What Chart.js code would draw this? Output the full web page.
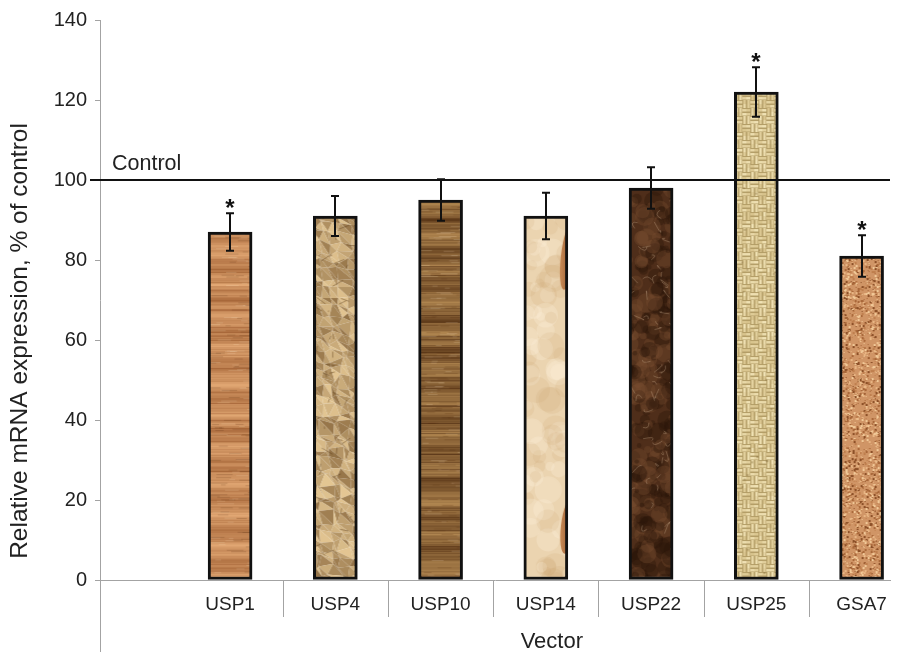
<!DOCTYPE html>
<html>
<head>
<meta charset="utf-8">
<script src="https://cdn.jsdelivr.net/npm/chart.js@4/dist/chart.umd.min.js"></script>
<style>
  html, body { margin: 0; padding: 0; background: #fff; }
  #wrap { width: 901px; height: 652px; }
</style>
</head>
<body>
<div id="wrap"><canvas id="chart" width="901" height="652"></canvas></div>
<script>
// Relative mRNA expression per vector (% of control), with error bars
const categories = ['USP1', 'USP4', 'USP10', 'USP14', 'USP22', 'USP25', 'GSA7'];
const expression = [87, 91, 95, 91, 98, 122, 81];
const errors = [4.7, 5.0, 5.2, 5.8, 5.2, 6.2, 5.2];
const significant = [true, false, false, false, false, true, true];
const controlLevel = 100;
const yTickValues = [0, 20, 40, 60, 80, 100, 120, 140];

const FONT = '"Liberation Sans", Arial, Helvetica, sans-serif';
const AXIS_GREY = '#a3a3a3';
const TEXT = '#222';

// ---------- texture helpers (deterministic) ----------
function hash(n) { const s = Math.sin(n * 12.9898 + 78.233) * 43758.5453; return s - Math.floor(s); }
function hex(c) { return [parseInt(c.slice(1, 3), 16), parseInt(c.slice(3, 5), 16), parseInt(c.slice(5, 7), 16)]; }
function mix(a, b, t) {
  t = Math.max(0, Math.min(1, t));
  const A = hex(a), B = hex(b);
  return 'rgb(' + A.map((v, i) => Math.round(v + (B[i] - v) * t)).join(',') + ')';
}
function canvasOf(w, h) { const c = document.createElement('canvas'); c.width = w; c.height = h; return c; }
const TW = 48, TH = 520;

function wood(light, dark, seed, bandiness) {
  const c = canvasOf(TW, TH), g = c.getContext('2d');
  for (let yy = 0; yy < TH; yy++) {
    let t = 0.45 + 0.22 * Math.sin(yy * 0.19 + seed) + 0.14 * Math.sin(yy * 0.63 + seed * 2.1)
          + 0.25 * (hash(yy + seed * 97) - 0.5) * bandiness;
    if (hash(yy * 3.1 + seed) > 0.9) t += 0.35;
    g.fillStyle = mix(light, dark, t);
    g.fillRect(0, yy, TW, 1);
  }
  // faint grain streaks
  for (let k = 0; k < 260; k++) {
    const x = hash(k * 5.3 + seed) * TW, yy = hash(k * 7.7 + seed) * TH;
    g.fillStyle = hash(k + seed * 3) > 0.5 ? 'rgba(255,235,200,0.18)' : 'rgba(80,40,10,0.18)';
    g.fillRect(x, yy, 4 + hash(k * 2.2) * 14, 1);
  }
  return c;
}

function crumpled() {
  const c = canvasOf(TW, TH), g = c.getContext('2d');
  const s = 9, cols = Math.ceil(TW / s) + 2, rows = Math.ceil(TH / s) + 2;
  const pts = [];
  for (let j = 0; j < rows; j++) {
    pts[j] = [];
    for (let i = 0; i < cols; i++) {
      pts[j][i] = [(i - 1) * s + (hash(i * 31 + j * 17) - 0.5) * 8, (j - 1) * s + (hash(i * 13 + j * 41) - 0.5) * 8];
    }
  }
  for (let j = 0; j < rows - 1; j++) {
    for (let i = 0; i < cols - 1; i++) {
      const a = pts[j][i], b = pts[j][i + 1], d = pts[j + 1][i], e = pts[j + 1][i + 1];
      [[a, b, e], [a, e, d]].forEach((tri, k) => {
        const t = hash(i * 7 + j * 19 + k * 3);
        g.fillStyle = mix('#7e5c32', '#e9cc98', 0.2 + t * 0.75);
        g.beginPath(); g.moveTo(tri[0][0], tri[0][1]); g.lineTo(tri[1][0], tri[1][1]); g.lineTo(tri[2][0], tri[2][1]); g.closePath(); g.fill();
      });
    }
  }
  g.strokeStyle = 'rgba(90,60,25,0.45)'; g.lineWidth = 1;
  for (let k = 0; k < 70; k++) {
    const x = hash(k * 3.3) * TW, yy = hash(k * 9.1) * TH;
    g.beginPath(); g.moveTo(x, yy); g.lineTo(x + (hash(k * 4.4) - 0.5) * 22, yy + (hash(k * 6.6) - 0.5) * 14); g.stroke();
  }
  return c;
}

function parchment() {
  const c = canvasOf(TW, TH), g = c.getContext('2d');
  g.fillStyle = '#ebd4b0'; g.fillRect(0, 0, TW, TH);
  for (let k = 0; k < 120; k++) {
    g.fillStyle = hash(k * 2.7) > 0.5 ? 'rgba(255,245,225,0.25)' : 'rgba(200,160,110,0.15)';
    g.beginPath(); g.arc(hash(k * 5.1) * TW, hash(k * 8.3) * TH, 4 + hash(k) * 10, 0, Math.PI * 2); g.fill();
  }
  const leaves = [[44, 40, 34], [44, 310, 28], [44, 372, 14]];
  leaves.forEach(([cx, cy, r]) => {
    const gr = g.createLinearGradient(cx - 8, 0, cx + 4, 0);
    gr.addColorStop(0, '#c98c58'); gr.addColorStop(1, '#94552a');
    g.fillStyle = gr;
    g.beginPath(); g.ellipse(cx, cy, 7, r, 0.12, 0, Math.PI * 2); g.fill();
  });
  return c;
}

function marble() {
  const c = canvasOf(TW, TH), g = c.getContext('2d');
  g.fillStyle = '#4f2e1a'; g.fillRect(0, 0, TW, TH);
  for (let k = 0; k < 420; k++) {
    g.fillStyle = hash(k * 1.9) > 0.5 ? 'rgba(120,78,48,0.35)' : 'rgba(40,20,8,0.35)';
    g.beginPath(); g.arc(hash(k * 4.7) * TW, hash(k * 6.1) * TH, 2 + hash(k * 3.3) * 8, 0, Math.PI * 2); g.fill();
  }
  g.strokeStyle = 'rgba(190,160,130,0.4)'; g.lineWidth = 1;
  for (let k = 0; k < 90; k++) {
    const x = hash(k * 2.3) * TW, yy = hash(k * 7.9) * TH;
    g.beginPath(); g.moveTo(x, yy);
    g.quadraticCurveTo(x + (hash(k * 5.5) - 0.5) * 16, yy + (hash(k * 8.8) - 0.5) * 16, x + (hash(k * 9.9) - 0.5) * 20, yy + (hash(k * 1.1) - 0.5) * 20);
    g.stroke();
  }
  return c;
}

function burlap() {
  const c = canvasOf(TW, TH), g = c.getContext('2d');
  g.fillStyle = '#b39d66'; g.fillRect(0, 0, TW, TH);
  const s = 4;
  for (let j = 0; j < TH / s; j++) {
    for (let i = 0; i < TW / s; i++) {
      g.fillStyle = mix('#d8c38c', '#f1e3b6', hash(i * 11 + j * 29));
      if (((i >> 1) + (j >> 1)) & 1) g.fillRect(i * s, j * s + 1, s, 2.5);
      else g.fillRect(i * s + 1, j * s, 2.5, s);
    }
  }
  for (let k = 0; k < 40; k++) {
    g.fillStyle = 'rgba(120,95,45,0.35)';
    g.fillRect(hash(k * 3.9) * TW, hash(k * 6.3) * TH, 2, 2);
  }
  return c;
}

function cork() {
  const c = canvasOf(TW, TH), g = c.getContext('2d');
  g.fillStyle = '#d09566'; g.fillRect(0, 0, TW, TH);
  const cols = ['#a9683a', '#e9b684', '#8c5028', '#f1c998', '#bf7f4e'];
  for (let k = 0; k < 4200; k++) {
    g.fillStyle = cols[Math.floor(hash(k * 3.7) * cols.length)];
    const sz = 1 + Math.floor(hash(k * 5.9) * 2);
    g.fillRect(Math.floor(hash(k * 1.3) * TW), Math.floor(hash(k * 2.9) * TH), sz, sz);
  }
  return c;
}

const ctx = document.getElementById('chart').getContext('2d');
const textures = [
  wood('#e2a874', '#a8683a', 1.3, 1.0),
  crumpled(),
  wood('#b08650', '#5e3a1a', 4.1, 1.4),
  parchment(),
  marble(),
  burlap(),
  cork()
];
const patterns = textures.map(t => ctx.createPattern(t, 'repeat'));

// ---------- overlays: control line, error bars, markers, separators, titles ----------
const overlays = {
  id: 'overlays',
  beforeDatasetsDraw(chart) {
    chart.getDatasetMeta(0).data.forEach((bar, i) => {
      patterns[i].setTransform(new DOMMatrix().translate(bar.x - bar.width / 2, bar.y));
    });
  },
  afterDatasetsDraw(chart) {
    const { ctx: c, chartArea: area, scales: { y } } = chart;
    c.save();
    // control reference line
    const yc = Math.round(y.getPixelForValue(controlLevel));
    c.strokeStyle = '#111'; c.lineWidth = 2;
    c.beginPath(); c.moveTo(area.left - 10, yc); c.lineTo(area.right, yc); c.stroke();
    c.fillStyle = TEXT; c.font = '21.5px ' + FONT; c.textAlign = 'left'; c.textBaseline = 'alphabetic';
    c.fillText('Control', area.left + 12, yc - 10);

    // error bars and significance markers
    c.strokeStyle = '#111'; c.lineWidth = 2;
    chart.getDatasetMeta(0).data.forEach((bar, i) => {
      const x = Math.round(bar.x);
      const top = y.getPixelForValue(expression[i] + errors[i]);
      const bot = y.getPixelForValue(expression[i] - errors[i]);
      c.beginPath();
      c.moveTo(x, top); c.lineTo(x, bot);
      c.moveTo(x - 4, top); c.lineTo(x + 4, top);
      c.moveTo(x - 4, bot); c.lineTo(x + 4, bot);
      c.stroke();
      if (significant[i]) {
        c.fillStyle = '#111'; c.font = 'bold 24px ' + FONT; c.textAlign = 'center';
        c.fillText('*', x, top + 3);
      }
    });
    c.restore();
  },
  afterDraw(chart) {
    const { ctx: c, chartArea: area, scales: { x } } = chart;
    c.save();
    c.strokeStyle = AXIS_GREY; c.lineWidth = 1;
    // category separators below the axis
    c.beginPath();
    for (let i = 0; i < categories.length - 1; i++) {
      const px = Math.round(x.getPixelForValue(i + 0.5)) + 0.5;
      c.moveTo(px, area.bottom); c.lineTo(px, area.bottom + 37);
    }
    // value axis continues down through the label band
    c.moveTo(area.left + 0.5, area.bottom); c.lineTo(area.left + 0.5, chart.height);
    c.stroke();

    // axis titles
    c.fillStyle = TEXT; c.textAlign = 'center'; c.textBaseline = 'middle';
    c.font = '22px ' + FONT;
    c.fillText('Vector', (x.getPixelForValue(-0.5) + x.getPixelForValue(categories.length - 0.5)) / 2 + 6, 642);
    c.translate(20, 341); c.rotate(-Math.PI / 2);
    c.font = '24.5px ' + FONT;
    c.fillText('Relative mRNA expression, % of control', 0, 0);
    c.restore();
  }
};

new Chart(ctx, {
  type: 'bar',
  data: {
    datasets: [{
      data: expression.map((v, i) => ({ x: i, y: v })),
      backgroundColor: patterns,
      borderColor: '#111',
      borderWidth: 3,
      borderSkipped: false,
      barThickness: 44
    }]
  },
  options: {
    responsive: false,
    animation: false,
    events: [],
    layout: { padding: { top: 20, right: 11, bottom: 0, left: 0 } },
    plugins: { legend: { display: false }, tooltip: { enabled: false } },
    scales: {
      x: {
        type: 'linear',
        offset: false,
        min: -1.236,
        max: 6.27,
        afterBuildTicks: s => { s.ticks = categories.map((_, i) => ({ value: i })); },
        afterFit: s => { s.height = 72; },
        grid: { display: false, drawTicks: false, offset: false },
        border: { display: true, color: AXIS_GREY, width: 1 },
        ticks: {
          autoSkip: false, maxRotation: 0, padding: 13,
          color: TEXT, font: { family: FONT, size: 19 },
          callback: v => categories[v]
        }
      },
      y: {
        min: 0, max: 140,
        afterBuildTicks: s => { s.ticks = yTickValues.map(v => ({ value: v })); },
        afterFit: s => { s.width = 100; },
        grid: { drawOnChartArea: false, drawTicks: true, tickLength: 5, color: AXIS_GREY },
        border: { display: true, color: AXIS_GREY, width: 1 },
        ticks: { padding: 8, color: TEXT, font: { family: FONT, size: 20 } }
      }
    }
  },
  plugins: [overlays]
});
</script>
</body>
</html>
